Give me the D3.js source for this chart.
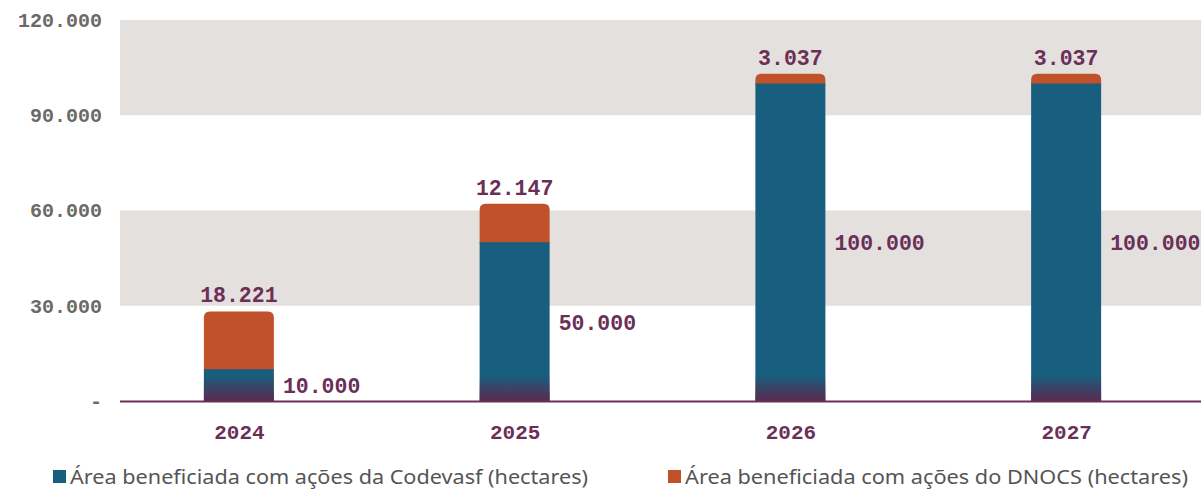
<!DOCTYPE html>
<html>
<head>
<meta charset="utf-8">
<script src="https://cdn.jsdelivr.net/npm/d3@7"></script>
<style>
  body { margin: 0; background: #fff; }
  svg { display: block; }
</style>
</head>
<body>
<div id="app"></div>
<script>
const years = ['2024', '2025', '2026', '2027'];
const codevasf = [10000, 50000, 100000, 100000];
const dnocs = [18221, 12147, 3037, 3037];
const yTicks = [0, 30000, 60000, 90000, 120000];
const seriesNames = [
  'Área beneficiada com ações da Codevasf (hectares)',
  'Área beneficiada com ações do DNOCS (hectares)'
];

const width = 1201;
const height = 489;
const blue = '#175e7f';
const orange = '#c1512a';
const purple = '#6b2f57';
const band = '#e3e0de';
const barWidth = 70;
const mono = '"Liberation Mono", "DejaVu Sans Mono", monospace';

const fmt = v => v === 0 ? '-' : d3.format(',')(v).replace(/,/g, '.');

const svg = d3.select('#app').append('svg')
  .attr('width', width)
  .attr('height', height);

const x = d3.scalePoint()
  .domain(years)
  .range([101, 1204])
  .padding(0.5);

const y = d3.scaleLinear()
  .domain([0, 120000])
  .range([401, 20]);

const plotLeft = 120;

// grey bands 30-60k and 90-120k
svg.append('g')
  .selectAll('rect')
  .data([[30000, 60000], [90000, 120000]])
  .join('rect')
  .attr('x', plotLeft)
  .attr('width', width - plotLeft)
  .attr('y', d => y(d[1]))
  .attr('height', d => y(d[0]) - y(d[1]))
  .attr('fill', band);

// y axis labels
const yAxis = d3.axisLeft(y)
  .tickValues(yTicks)
  .tickFormat(fmt)
  .tickSize(0)
  .tickPadding(0);

svg.append('g')
  .attr('transform', 'translate(102,0)')
  .call(yAxis)
  .call(g => g.select('.domain').remove())
  .call(g => g.selectAll('text')
    .attr('font-family', mono)
    .attr('font-weight', 'bold')
    .attr('font-size', 20)
    .attr('fill', '#6a6a6a'));

// gradient at bar base
const defs = svg.append('defs');
const grad = defs.append('linearGradient')
  .attr('id', 'base')
  .attr('x1', 0).attr('y1', 0).attr('x2', 0).attr('y2', 1);
grad.append('stop').attr('offset', '0%').attr('stop-color', '#5a2a50').attr('stop-opacity', 0);
grad.append('stop').attr('offset', '100%').attr('stop-color', '#5c2950').attr('stop-opacity', 1);

const data = years.map((yr, i) => ({ yr, a: codevasf[i], b: dnocs[i] }));
const r = 6;

const bars = svg.append('g').selectAll('g')
  .data(data)
  .join('g');

// orange (top) segment with rounded top corners
bars.append('path')
  .attr('fill', orange)
  .attr('d', d => {
    const x0 = x(d.yr) - barWidth / 2;
    const x1 = x0 + barWidth;
    const top = y(d.a + d.b);
    const bot = y(d.a) + 1;
    return `M${x0},${bot}V${top + r}Q${x0},${top} ${x0 + r},${top}H${x1 - r}Q${x1},${top} ${x1},${top + r}V${bot}Z`;
  });

bars.append('rect')
  .attr('fill', blue)
  .attr('x', d => x(d.yr) - barWidth / 2)
  .attr('width', barWidth)
  .attr('y', d => y(d.a))
  .attr('height', d => y(0) - y(d.a));

bars.append('rect')
  .attr('fill', 'url(#base)')
  .attr('x', d => x(d.yr) - barWidth / 2)
  .attr('width', barWidth)
  .attr('y', y(0) - 26)
  .attr('height', 26);

// total-segment labels
bars.append('text')
  .attr('x', d => x(d.yr))
  .attr('y', d => y(d.a + d.b) - 9)
  .attr('text-anchor', 'middle')
  .attr('font-family', mono)
  .attr('font-weight', 'bold')
  .attr('font-size', 21.5)
  .attr('fill', purple)
  .text(d => fmt(d.b));

// codevasf labels
bars.append('text')
  .attr('x', d => x(d.yr) + barWidth / 2 + 9)
  .attr('y', d => (y(d.a) + y(0)) / 2 + 8)
  .attr('font-family', mono)
  .attr('font-weight', 'bold')
  .attr('font-size', 21.5)
  .attr('fill', purple)
  .text(d => fmt(d.a));

// x axis
const xAxis = d3.axisBottom(x).tickSize(0).tickPadding(0);
svg.append('g')
  .attr('transform', `translate(0,${y(0)})`)
  .call(xAxis)
  .call(g => g.select('.domain').remove())
  .call(g => g.selectAll('text')
    .attr('dy', 0)
    .attr('y', 38)
    .attr('font-family', mono)
    .attr('font-weight', 'bold')
    .attr('font-size', 21)
    .attr('fill', purple));

svg.append('line')
  .attr('x1', plotLeft).attr('x2', width)
  .attr('y1', y(0) + 0.5).attr('y2', y(0) + 0.5)
  .attr('stroke', purple)
  .attr('stroke-width', 2);

// legend
const legend = svg.append('g')
  .selectAll('g')
  .data(seriesNames)
  .join('g')
  .attr('transform', (d, i) => `translate(${[53, 668][i]},477)`);

legend.append('rect')
  .attr('y', -7)
  .attr('width', 13)
  .attr('height', 13)
  .attr('fill', (d, i) => [blue, orange][i]);

legend.append('text')
  .attr('x', 17)
  .attr('y', 7)
  .attr('font-family', '"Noto Sans", "Open Sans", sans-serif')
  .attr('font-size', 20)
  .attr('fill', '#555')
  .attr('textLength', (d, i) => [518, 503][i])
  .attr('lengthAdjust', 'spacingAndGlyphs')
  .text(d => d);
</script>
</body>
</html>
